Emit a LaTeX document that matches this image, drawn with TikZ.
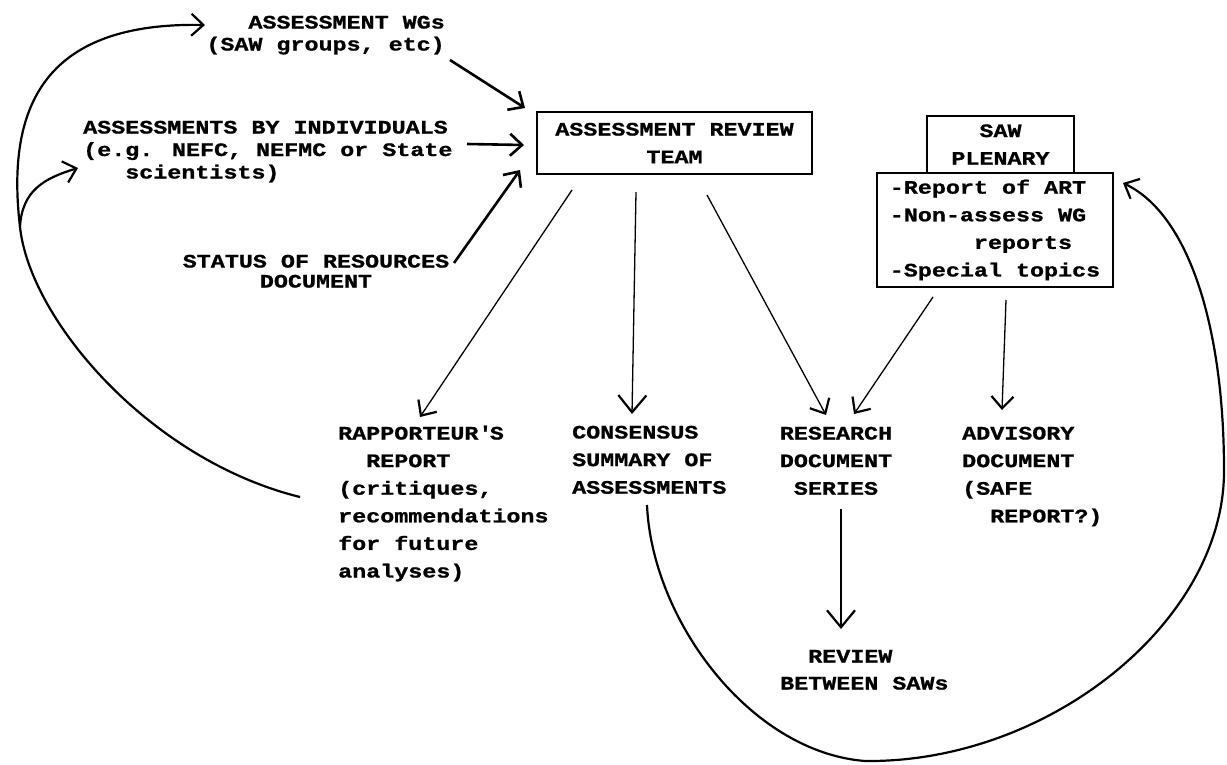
\documentclass[tikz,border=0pt]{standalone}
\usepackage{fontspec}
\newfontfamily\tw{Liberation Mono}[FakeStretch=1.23, BoldFeatures={FakeBold=1}]
\usetikzlibrary{arrows.meta,calc}
\begin{document}
\begin{tikzpicture}[x=1pt,y=-1pt,
  txt/.style={inner sep=0pt, font=\tw\bfseries\fontsize{19}{22}\selectfont},
  wide/.style={inner sep=0pt, font=\tw\bfseries\fontsize{19}{27.6}\selectfont},
  boxed/.style={draw, line width=1.4pt, inner sep=0pt, align=center, font=\tw\bfseries\fontsize{19}{27.6}\selectfont},
  headS/.style={-{Straight Barb[length=12pt,width=22pt,line width=2.2pt]}},
  headL/.style={-{Straight Barb[length=17pt,width=28pt,line width=2.2pt]}},
  inarrow/.style={line width=2.6pt, -{Straight Barb[length=12pt,width=22pt,line width=2.6pt]}},
  outarrow/.style={line width=1.3pt},
  loop/.style={line width=2.2pt}]
\useasboundingbox (0,0) rectangle (1227,764);
\fill[white] (0,0) rectangle (1227,764);

% text blocks (anchored at the baseline of their last line)
\node[txt, align=right, anchor=base east] (wgs) at (445,50.5) {ASSESSMENT WGs\\(SAW groups, etc)};
\node[txt, align=left, anchor=base west, font=\tw\bfseries\fontsize{19}{22.5}\selectfont] (ind) at (83,178.5) {ASSESSMENTS BY INDIVIDUALS\\(e.g. NEFC, NEFMC or State\\\ \ \ scientists)};
\node[txt, align=center, anchor=base, font=\tw\bfseries\fontsize{19}{20}\selectfont] (sor) at (316,287.5) {STATUS OF RESOURCES\\DOCUMENT};

\node[boxed, minimum width=275pt, minimum height=62pt] (art) at (674.5,143) {ASSESSMENT REVIEW\\TEAM};
\node[boxed, minimum width=147pt, minimum height=57pt] (sawt) at (1000.5,144.5) {SAW\\PLENARY};
\node[boxed, align=left, minimum width=236pt, minimum height=114pt] (sawb) at (995,230) {-Report of ART\\-Non-assess WG\\\ \ \ \ \ \ reports\\-Special topics};

\node[wide, align=left, anchor=base west] (rap) at (338,577.5) {RAPPORTEUR\textquotesingle S\\\ \ REPORT\\(critiques,\\recommendations\\for future\\analyses)};
\node[wide, align=left, anchor=base west] (cons) at (572,493.7) {CONSENSUS\\SUMMARY OF\\ASSESSMENTS};
\node[wide, align=center, anchor=base] (res) at (836,494.7) {RESEARCH\\DOCUMENT\\SERIES};
\node[wide, align=left, anchor=base west] (adv) at (962,522.3) {ADVISORY\\DOCUMENT\\(SAFE\\\ \ REPORT?)};
\node[wide, align=left, anchor=base west, font=\tw\bfseries\fontsize{19}{27}\selectfont] (rev) at (780,689.5) {\ \ REVIEW\\BETWEEN SAWs};

% connector end points
\coordinate (wgs-out) at (450,60);   \coordinate (art-in1) at (525,108);
\coordinate (ind-out) at (467,144);  \coordinate (art-in2) at (524,145);
\coordinate (sor-out) at (454,263);  \coordinate (art-in3) at (520,170);
\coordinate (art-o1) at (572,190);   \coordinate (rap-in) at (420,417);
\coordinate (art-o2) at (636,192);   \coordinate (cons-in) at (632,414);
\coordinate (art-o3) at (707,195);   \coordinate (res-in1) at (826,415);
\coordinate (saw-o1) at (933,297);   \coordinate (res-in2) at (854,414);
\coordinate (saw-o2) at (1006,300);  \coordinate (adv-in) at (1002,410);
\coordinate (res-out) at (841,509);  \coordinate (rev-in) at (841,629);
\coordinate (cons-out) at (647,505); \coordinate (saw-in) at (1123,183);
\coordinate (rap-out) at (300,497);  \coordinate (fork) at (20,227);
\coordinate (wgs-in) at (205,25);    \coordinate (ind-in) at (78,168);

% inputs to the review team
\draw[inarrow] (wgs-out) -- (art-in1);
\draw[inarrow] (ind-out) -- (art-in2);
\draw[inarrow] (sor-out) -- (art-in3);

% outputs
\draw[outarrow, headS] (art-o1) -- (rap-in);
\draw[outarrow, headL] (art-o2) -- (cons-in);
\draw[outarrow, headS] (art-o3) -- (res-in1);
\draw[outarrow, headS] (saw-o1) -- (res-in2);
\draw[outarrow, headS] (saw-o2) -- (adv-in);
\draw[outarrow, headL] (res-out) -- (rev-in);

% feedback loops
\draw[loop, headS] (cons-out) .. controls (652,620) and (750,752) .. (865,761)
  .. controls (1050,763) and (1225,620) .. (1224,470)
  .. controls (1224,330) and (1190,215) .. (saw-in);
\draw[loop, headS] (rap-out) .. controls (150,460) and (30,320) .. (fork)
  .. controls (5,100) and (50,22) .. (wgs-in);
\draw[loop, headS] (fork) .. controls (22,190) and (45,178) .. (ind-in);
\end{tikzpicture}
\end{document}
